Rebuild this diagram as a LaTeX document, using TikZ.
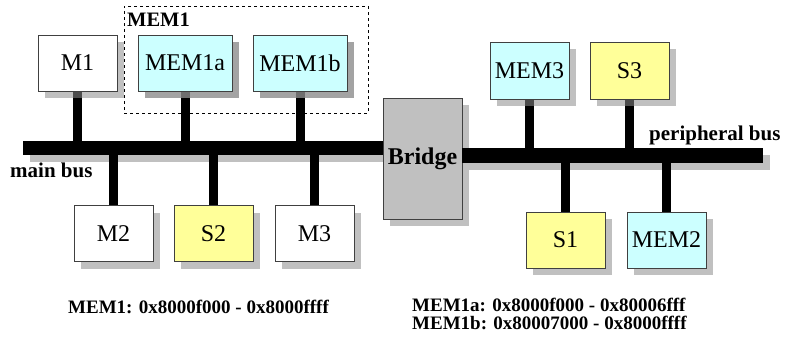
\documentclass[tikz,border=0pt]{standalone}
\usepackage{fontspec}
\setmainfont{Liberation Serif}
\usetikzlibrary{shadows}
\definecolor{memfill}{HTML}{CCFFFF}
\definecolor{slvfill}{HTML}{FFFF99}
\definecolor{brfill}{HTML}{C0C0C0}
\definecolor{edgecol}{HTML}{404040}
\begin{document}
\begin{tikzpicture}[x=1pt,y=-1pt,
  boxshadow/.style={drop shadow={shadow xshift=7pt,shadow yshift=-7pt,fill=black!45,opacity=0.55}},
  unit/.style={draw=edgecol,line width=1pt,boxshadow,minimum width=79pt,minimum height=56pt,
    inner sep=0pt,font=\fontsize{24}{28}\selectfont},
  wideunit/.style={unit,minimum width=94pt},
  master/.style={unit,fill=white},
  memory/.style={unit,fill=memfill},
  slave/.style={unit,fill=slvfill},
  bus/.style={fill=black,inner sep=0pt,boxshadow},
  stub/.style={line width=9pt,black},
  buslabel/.style={anchor=base west,inner sep=0pt,font=\fontsize{21}{25}\selectfont\bfseries},
  addr/.style={anchor=base west,inner sep=0pt,font=\fontsize{19}{17.5}\selectfont\bfseries}
]
\useasboundingbox (0,0) rectangle (785,343);

% MEM1 group outline
\node[draw,dashed,line width=0.7pt,minimum width=244pt,minimum height=107pt,inner sep=0pt] (grp) at (246,59.5) {};
\node[buslabel,font=\fontsize{20.5}{24}\selectfont\bfseries] (grplbl) at (127,26) {MEM1};

% buses and bridge
\node[bus,minimum width=360pt,minimum height=14pt] (mainbus) at (203,148) {};
\node[unit,fill=brfill,minimum height=121pt,font=\fontsize{24}{28}\selectfont\bfseries] (bridge) at (422.5,158.5) {\raisebox{-3pt}{Bridge}};
\node[bus,minimum width=301pt,minimum height=15pt] (perbus) at (612.5,155.5) {};

% stubs on the main bus
\coordinate (pM1) at (77.5,91);
\coordinate (pMa) at (185,91);
\coordinate (pMb) at (300,91);
\coordinate (pM2) at (113.5,205);
\coordinate (pS2) at (213.5,205);
\coordinate (pM3) at (314.5,205);
\draw[stub] (pM1) -- (pM1 |- mainbus.north);
\draw[stub] (pMa) -- (pMa |- mainbus.north);
\draw[stub] (pMb) -- (pMb |- mainbus.north);
\draw[stub] (pM2) -- (pM2 |- mainbus.south);
\draw[stub] (pS2) -- (pS2 |- mainbus.south);
\draw[stub] (pM3) -- (pM3 |- mainbus.south);

% stubs on the peripheral bus
\coordinate (pM3p) at (529.5,99);
\coordinate (pS3) at (629.5,99);
\coordinate (pS1) at (565.5,212);
\coordinate (pMem2) at (666.5,212);
\draw[stub] (pM3p) -- (pM3p |- perbus.north);
\draw[stub] (pS3) -- (pS3 |- perbus.north);
\draw[stub] (pS1) -- (pS1 |- perbus.south);
\draw[stub] (pMem2) -- (pMem2 |- perbus.south);

% units on the main bus
\node[master] (M1) at (77.5,63) {M1};
\node[memory,wideunit] (MEM1a) at (185,63) {MEM1a};
\node[memory,wideunit] (MEM1b) at (300,63) {MEM1b};
\node[master] (M2) at (113.5,233.5) {M2};
\node[slave] (S2) at (213.5,233.5) {S2};
\node[master] (M3) at (314.5,233.5) {M3};

% units on the peripheral bus
\node[memory,minimum height=57pt] (MEM3) at (529.5,70.5) {MEM3};
\node[slave,minimum height=57pt] (S3) at (629.5,70.5) {S3};
\node[slave] (S1) at (565.5,240) {S1};
\node[memory] (MEM2) at (666.5,240) {MEM2};

% labels
\node[buslabel] (mainlbl) at (10,177) {main bus};
\node[buslabel] (perlbl) at (649,140) {peripheral bus};
\node[addr] (addrA) at (68,313) {MEM1: 0x8000f000 - 0x8000ffff};
\node[addr,align=left] (addrB) at (412,329) {MEM1a: 0x8000f000 - 0x80006fff\\MEM1b: 0x80007000 - 0x8000ffff};
\end{tikzpicture}
\end{document}
